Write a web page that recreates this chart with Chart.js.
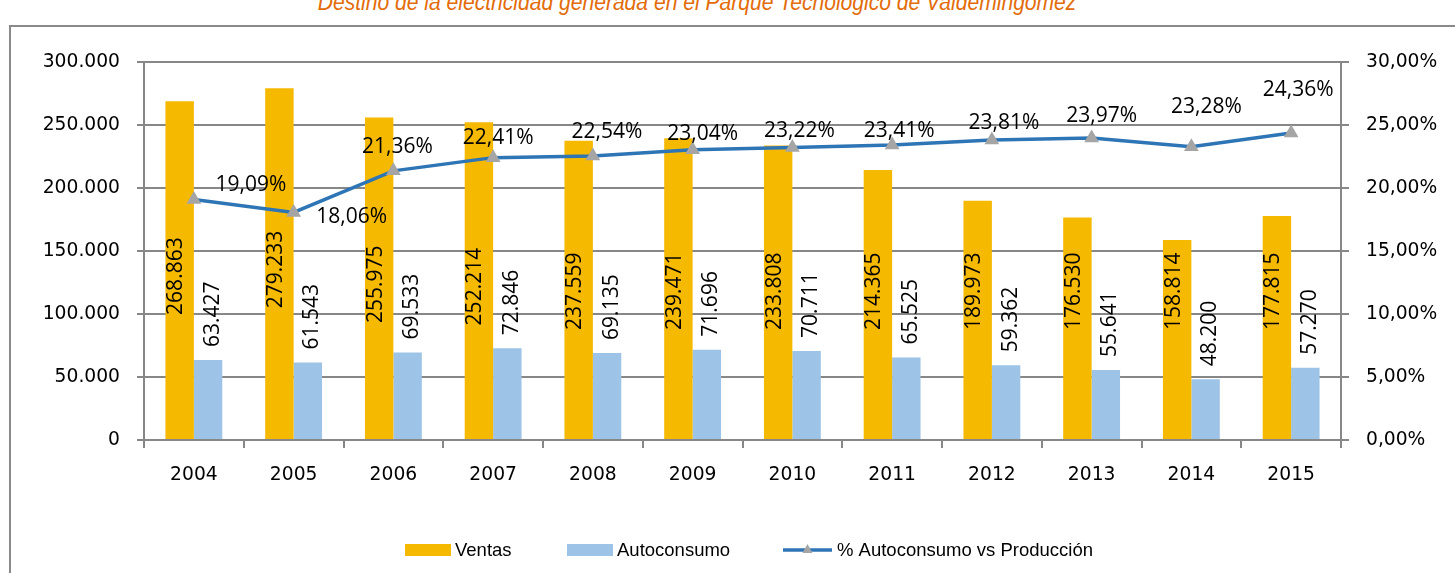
<!DOCTYPE html>
<html>
<head>
<meta charset="utf-8">
<title>Destino de la electricidad generada</title>
<script src="https://cdn.jsdelivr.net/npm/chart.js@4.4.0/dist/chart.umd.min.js"></script>
<style>
  html, body { margin: 0; padding: 0; background: #fff; overflow: hidden; }
  #wrap { position: relative; width: 1455px; height: 573px; overflow: hidden; }
  #frame {
    position: absolute; left: 9px; top: 25px; width: 1600px; height: 700px;
    border-left: 2px solid #8a8a8a; border-top: 2px solid #8a8a8a;
  }
  #title {
    position: absolute; left: 0; top: -12px; width: 1395px; text-align: center;
    font: italic 24.5px "Liberation Sans", sans-serif;
    color: #E36C0A; white-space: nowrap;
  }
  #title span { display: inline-block; transform: scaleX(0.86); transform-origin: center; }
  #chart { position: absolute; left: 0; top: 0; }
</style>
</head>
<body>
<div id="wrap">
  <div id="frame"></div>
  <div id="title"><span>Destino de la electricidad generada en el Parque Tecnológico de Valdemingómez</span></div>
  <canvas id="chart" width="1455" height="573"></canvas>
</div>
<script>
// years on the x axis
const years = ['2004', '2005', '2006', '2007', '2008', '2009', '2010', '2011', '2012', '2013', '2014', '2015'];

// MWh sold to the grid
const ventas = [268863, 279233, 255975, 252214, 237559, 239471, 233808, 214365, 189973, 176530, 158814, 177815];

// MWh used by the plant itself
const autoconsumo = [63427, 61543, 69533, 72846, 69135, 71696, 70711, 65525, 59362, 55641, 48200, 57270];

// share of production used by the plant (%)
const pctAutoconsumo = [19.09, 18.06, 21.36, 22.41, 22.54, 23.04, 23.22, 23.41, 23.81, 23.97, 23.28, 24.36];

// where each % label sits relative to its point (px)
const pctLabelShift = [
  [57, -16], [58, 3], [4, -25], [5, -21], [14, -25], [10, -17],
  [7, -18], [7, -16], [12, -18], [10, -23], [15, -41], [7, -45]
];

const TICK_FONT = '"DejaVu Sans", Verdana, sans-serif';
const LABEL_FONT = '"Open Sans", "Noto Sans", sans-serif';
const LEGEND_FONT = '"Liberation Sans", Arial, sans-serif';
const GRID = '#878787';
const COL_VENTAS = '#F5B900';
const COL_AUTO = '#9DC3E6';
const COL_LINE = '#2E75B6';
const COL_MARKER = '#A5A5A5';

const fmtThousands = v => String(Math.round(v)).replace(/\B(?=(\d{3})+(?!\d))/g, '.');
const fmtPct = v => v.toFixed(2).replace('.', ',') + '%';

// value labels: vertical numbers on the bars, percentages over the line
const valueLabels = {
  id: 'valueLabels',
  afterDatasetsDraw(chart) {
    const ctx = chart.ctx;
    const y = chart.scales.y;
    const half = 7.5; // half the digit height at 21px
    ctx.save();
    ctx.fillStyle = '#000';
    ctx.font = '21px ' + LABEL_FONT;

    // Ventas: inside the bar, kept around the middle of the plot
    const lowest = y.getPixelForValue(118000);
    chart.getDatasetMeta(1).data.forEach((bar, i) => {
      const mid = (bar.y + bar.base) / 2 + 6;
      const cy = Math.min(mid, lowest);
      ctx.save();
      ctx.translate(bar.x - 5 + half, cy);
      ctx.rotate(-Math.PI / 2);
      ctx.textAlign = 'center';
      ctx.textBaseline = 'alphabetic';
      ctx.fillText(fmtThousands(ventas[i]), 0, 0);
      ctx.restore();
    });

    // Autoconsumo: above the bar
    chart.getDatasetMeta(2).data.forEach((bar, i) => {
      ctx.save();
      ctx.translate(bar.x + 3 + half, bar.y - 13);
      ctx.rotate(-Math.PI / 2);
      ctx.textAlign = 'left';
      ctx.textBaseline = 'alphabetic';
      ctx.fillText(fmtThousands(autoconsumo[i]), 0, 0);
      ctx.restore();
    });

    // percentages
    chart.getDatasetMeta(0).data.forEach((pt, i) => {
      const [dx, dy] = pctLabelShift[i];
      ctx.textAlign = 'center';
      ctx.textBaseline = 'alphabetic';
      ctx.fillText(fmtPct(pctAutoconsumo[i]), pt.x + dx, pt.y + dy + half);
    });
    ctx.restore();
  }
};

// legend along the bottom edge
const bottomLegend = {
  id: 'bottomLegend',
  afterDraw(chart) {
    const ctx = chart.ctx;
    const cy = 550;
    ctx.save();
    ctx.font = '18.5px ' + LEGEND_FONT;
    ctx.textBaseline = 'middle';
    ctx.textAlign = 'left';

    const items = [
      { text: 'Ventas', kind: 'box', color: COL_VENTAS, x: 405 },
      { text: 'Autoconsumo', kind: 'box', color: COL_AUTO, x: 567 },
      { text: '% Autoconsumo vs Producción', kind: 'line', x: 783 }
    ];
    items.forEach(item => {
      const x = item.x;
      if (item.kind === 'box') {
        ctx.fillStyle = item.color;
        ctx.fillRect(x, cy - 6, 46, 12);
      } else {
        ctx.strokeStyle = COL_LINE;
        ctx.lineWidth = 3.5;
        ctx.beginPath();
        ctx.moveTo(x, cy);
        ctx.lineTo(x + 49, cy);
        ctx.stroke();
        ctx.fillStyle = COL_MARKER;
        ctx.beginPath();
        ctx.moveTo(x + 24.5, cy - 6);
        ctx.lineTo(x + 29.5, cy + 3);
        ctx.lineTo(x + 19.5, cy + 3);
        ctx.closePath();
        ctx.fill();
      }
      const tx = x + (item.kind === 'box' ? 50 : 54);
      ctx.fillStyle = '#000';
      ctx.fillText(item.text, tx, cy + 1);
    });
    ctx.restore();
  }
};

const tickFont = { family: TICK_FONT, size: 18.7 };

new Chart(document.getElementById('chart'), {
  data: {
    labels: years,
    datasets: [
      {
        type: 'line',
        label: '% Autoconsumo vs Producción',
        data: pctAutoconsumo,
        yAxisID: 'y1',
        borderColor: COL_LINE,
        borderWidth: 3.5,
        tension: 0,
        pointStyle: 'triangle',
        pointRadius: 8.5,
        pointBackgroundColor: COL_MARKER,
        pointBorderWidth: 0,
        clip: false,
        order: 0
      },
      {
        type: 'bar',
        label: 'Ventas',
        data: ventas,
        yAxisID: 'y',
        backgroundColor: COL_VENTAS,
        categoryPercentage: 0.57,
        barPercentage: 1,
        order: 1
      },
      {
        type: 'bar',
        label: 'Autoconsumo',
        data: autoconsumo,
        yAxisID: 'y',
        backgroundColor: COL_AUTO,
        categoryPercentage: 0.57,
        barPercentage: 1,
        order: 2
      }
    ]
  },
  options: {
    responsive: false,
    animation: false,
    devicePixelRatio: 1,
    layout: { padding: { top: 62, left: 0, right: 0, bottom: 0 } },
    plugins: {
      legend: { display: false },
      title: { display: false },
      tooltip: { enabled: false }
    },
    scales: {
      x: {
        grid: { drawOnChartArea: false, drawTicks: true, tickLength: 8, color: GRID, lineWidth: 2, offset: true },
        border: { display: true, color: GRID, width: 2 },
        ticks: { color: '#000', font: tickFont, padding: 16, maxRotation: 0 },
        afterFit: s => { s.height = 133; }
      },
      y: {
        position: 'left',
        min: 0,
        max: 300000,
        ticks: { stepSize: 50000, color: '#000', font: tickFont, padding: 17, callback: v => fmtThousands(v) },
        grid: { color: GRID, lineWidth: 2, tickLength: 7 },
        border: { display: true, color: GRID, width: 2 },
        afterFit: s => { s.width = 144; }
      },
      y1: {
        position: 'right',
        min: 0,
        max: 30,
        ticks: { stepSize: 5, color: '#000', font: tickFont, padding: 17, callback: v => fmtPct(v) },
        grid: { drawOnChartArea: false, color: GRID, lineWidth: 2, tickLength: 8 },
        border: { display: true, color: GRID, width: 2 },
        afterFit: s => { s.width = 114; }
      }
    }
  },
  plugins: [valueLabels, bottomLegend]
});
</script>
</body>
</html>
